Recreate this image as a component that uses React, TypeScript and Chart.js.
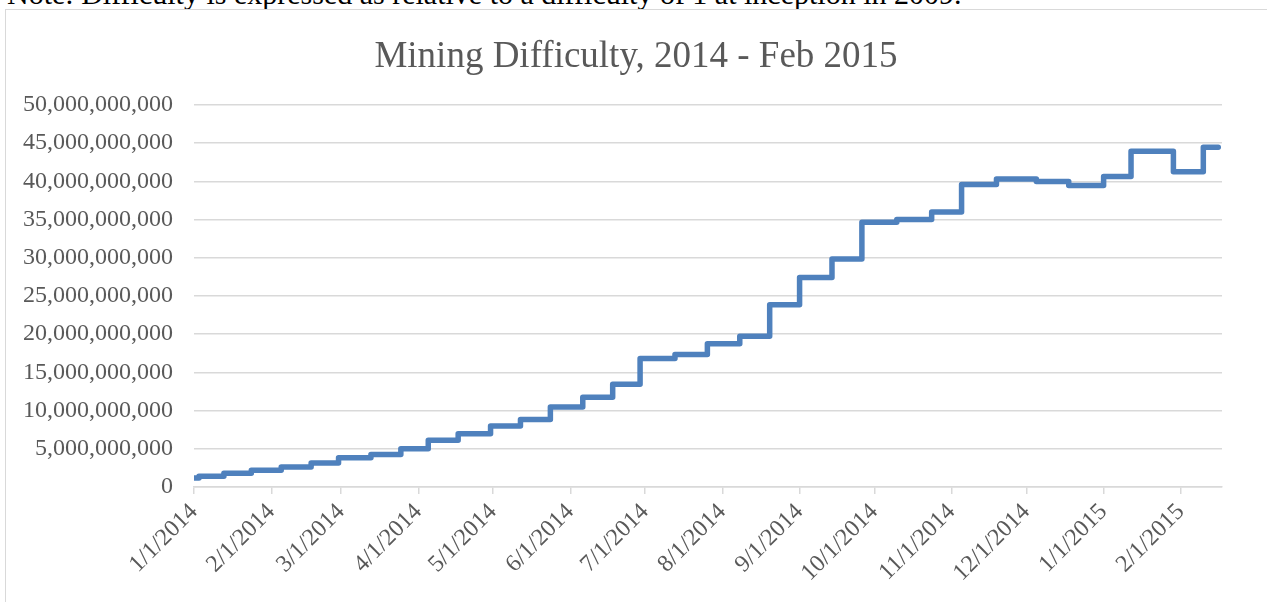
import React, { useEffect, useRef } from "react";
import { Chart, registerables } from "chart.js";

Chart.register(...registerables);

// Days since 1/1/2014 at which each difficulty level begins
const stepDays = [0, 2, 12, 23, 35, 47, 58, 71, 83, 94, 106, 119, 131, 143, 156, 168, 179, 193, 206, 219, 231, 243, 256, 268, 282, 296, 308, 322, 338, 351, 365, 376, 393, 405, 411];
// Difficulty in billions for each level
const difficultyBillions = [1.18, 1.42, 1.79, 2.19, 2.62, 3.13, 3.82, 4.25, 5.01, 6.12, 6.98, 8.0, 8.85, 10.46, 11.76, 13.46, 16.82, 17.34, 18.74, 19.73, 23.84, 27.43, 29.83, 34.66, 35.0, 35.99, 39.6, 40.3, 39.99, 39.46, 40.64, 43.95, 41.27, 44.46, 44.46];

// X tick positions (days since 1/1/2014) and labels
const monthTickDays = [0, 31, 59, 90, 120, 151, 181, 212, 243, 273, 304, 334, 365, 396];
const monthTickLabels = ["1/1/2014", "2/1/2014", "3/1/2014", "4/1/2014", "5/1/2014", "6/1/2014", "7/1/2014", "8/1/2014", "9/1/2014", "10/1/2014", "11/1/2014", "12/1/2014", "1/1/2015", "2/1/2015"];

const yTicks = [0, 5e9, 10e9, 15e9, 20e9, 25e9, 30e9, 35e9, 40e9, 45e9, 50e9];

const titleText = "Mining Difficulty, 2014 - Feb 2015";
const noteText = "Note: Difficulty is expressed as relative to a difficulty of 1 at inception in 2009.";

const SERIF = '"Liberation Serif", "Times New Roman", serif';

const titlePlugin = {
  id: "offsetTitle",
  afterDraw(chart: any) {
    const ctx = chart.ctx;
    ctx.save();
    ctx.font = `37px ${SERIF}`;
    ctx.fillStyle = "#595959";
    ctx.textAlign = "center";
    ctx.textBaseline = "middle";
    ctx.fillText(titleText, 636, 57);
    ctx.restore();
  },
};

export default function App() {
  const canvasRef = useRef<HTMLCanvasElement | null>(null);

  useEffect(() => {
    const canvas = canvasRef.current;
    if (!canvas) return;
    const points = stepDays.map((d, i) => ({ x: d, y: difficultyBillions[i] * 1e9 }));
    const chart = new Chart(canvas, {
      type: "line",
      data: {
        datasets: [
          {
            data: points,
            borderColor: "#4f81bd",
            borderWidth: 5.5,
            pointRadius: 0,
            stepped: "before",
            borderCapStyle: "round",
            borderJoinStyle: "round",
            fill: false,
          },
        ],
      },
      plugins: [titlePlugin],
      options: {
        animation: false,
        responsive: false,
        devicePixelRatio: 1,
        layout: { padding: { left: 20, right: 45, top: 105, bottom: 0 } },
        plugins: {
          legend: { display: false },
          tooltip: { enabled: false },
          title: { display: false },
        },
        scales: {
          x: {
            type: "linear",
            min: 0,
            max: 412.5,
            afterBuildTicks: (axis: any) => {
              axis.ticks = monthTickDays.map((v) => ({ value: v }));
            },
            afterFit: (axis: any) => {
              axis.height = 115;
            },
            grid: {
              display: true,
              drawOnChartArea: false,
              drawTicks: true,
              tickLength: 7,
              color: "#d9d9d9",
              lineWidth: 1.5,
            },
            border: { display: true, color: "#d9d9d9", width: 1.5 },
            ticks: {
              autoSkip: false,
              minRotation: 45,
              maxRotation: 45,
              padding: 4,
              color: "#595959",
              font: { family: SERIF, size: 24 },
              callback: (value: any) => {
                const idx = monthTickDays.indexOf(Number(value));
                return idx >= 0 ? monthTickLabels[idx] : "";
              },
            },
          },
          y: {
            min: 0,
            max: 50e9,
            afterBuildTicks: (axis: any) => {
              axis.ticks = yTicks.map((v) => ({ value: v }));
            },
            afterFit: (axis: any) => {
              axis.width = 174;
            },
            grid: {
              color: "#d9d9d9",
              lineWidth: 1.5,
              drawTicks: false,
            },
            border: { display: false },
            ticks: {
              padding: 21,
              color: "#595959",
              font: { family: SERIF, size: 24 },
              callback: (value: any) => Number(value).toLocaleString("en-US"),
            },
          },
        },
      },
    });
    return () => chart.destroy();
  }, []);

  return (
    <div
      style={{
        position: "fixed",
        left: 0,
        top: 0,
        width: 1267,
        height: 602,
        overflow: "hidden",
        background: "#ffffff",
      }}
    >
      <div
        style={{
          position: "absolute",
          left: 7,
          top: -21,
          fontFamily: SERIF,
          fontSize: 30,
          lineHeight: "30px",
          whiteSpace: "nowrap",
          color: "#000000",
        }}
      >
        {noteText}
      </div>
      <div
        style={{
          position: "absolute",
          left: 5,
          top: 9,
          width: 1400,
          height: 800,
          border: "1px solid #d9d9d9",
          boxSizing: "border-box",
        }}
      />
      <canvas
        ref={canvasRef}
        width={1267}
        height={602}
        style={{ position: "absolute", left: 0, top: 0 }}
      />
    </div>
  );
}
